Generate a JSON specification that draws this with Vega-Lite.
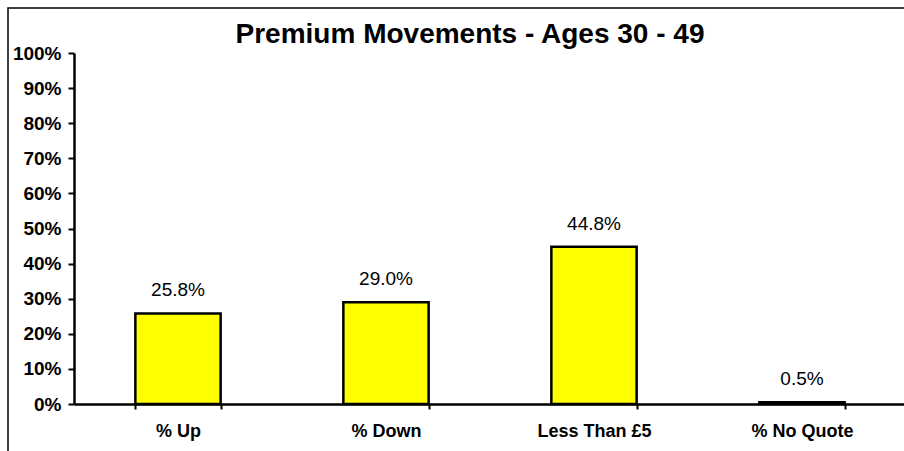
{
  "$schema": "https://vega.github.io/schema/vega-lite/v6.json",
  "autosize": "none",
  "width": 904,
  "height": 451,
  "padding": {"left": 8, "top": 8, "right": 0, "bottom": 0},
  "background": "white",
  "config": {
    "view": {"stroke": "black", "strokeWidth": 1.5},
    "font": "Liberation Sans"
  },
  "title": {
    "text": "Premium Movements - Ages 30 - 49",
    "font": "Liberation Sans",
    "fontSize": 28,
    "fontWeight": "bold",
    "color": "black",
    "anchor": "middle",
    "frame": "group",
    "baseline": "alphabetic",
    "dx": 10,
    "dy": 67
  },
  "data": {
    "values": [
      {"category": "% Up", "value": 0.258},
      {"category": "% Down", "value": 0.29},
      {"category": "Less Than £5", "value": 0.448},
      {"category": "% No Quote", "value": 0.005}
    ]
  },
  "encoding": {
    "x": {
      "field": "category",
      "type": "nominal",
      "sort": null,
      "scale": {"range": [66, 898], "paddingInner": 0.59, "paddingOuter": 0.295},
      "axis": {
        "title": null,
        "offset": -55,
        "labelAngle": 0,
        "labelFont": "Liberation Sans",
        "labelFontSize": 18,
        "labelFontWeight": "bold",
        "labelColor": "black",
        "labelPadding": 13,
        "tickBand": "extent",
        "tickSize": 5,
        "tickWidth": 2,
        "tickColor": "black",
        "domainColor": "black",
        "domainWidth": 2.5
      }
    },
    "y": {
      "field": "value",
      "type": "quantitative",
      "scale": {"domain": [0, 1], "range": [396, 45], "nice": false},
      "axis": {
        "title": null,
        "offset": -66,
        "format": ".0%",
        "values": [0, 0.1, 0.2, 0.3, 0.4, 0.5, 0.6, 0.7, 0.8, 0.9, 1],
        "grid": false,
        "labelFont": "Liberation Sans",
        "labelFontSize": 19,
        "labelFontWeight": "bold",
        "labelColor": "black",
        "labelPadding": 7,
        "tickSize": 6,
        "tickWidth": 2,
        "tickColor": "black",
        "domainColor": "black",
        "domainWidth": 2.5
      }
    }
  },
  "layer": [
    {
      "mark": {"type": "bar", "fill": "#FFFF00", "stroke": "black", "strokeWidth": 2.5}
    },
    {
      "mark": {"type": "text", "dy": -17, "baseline": "alphabetic", "fontSize": 19, "font": "Liberation Sans", "color": "black"},
      "encoding": {
        "text": {"field": "value", "type": "quantitative", "format": ".1%"}
      }
    }
  ]
}
